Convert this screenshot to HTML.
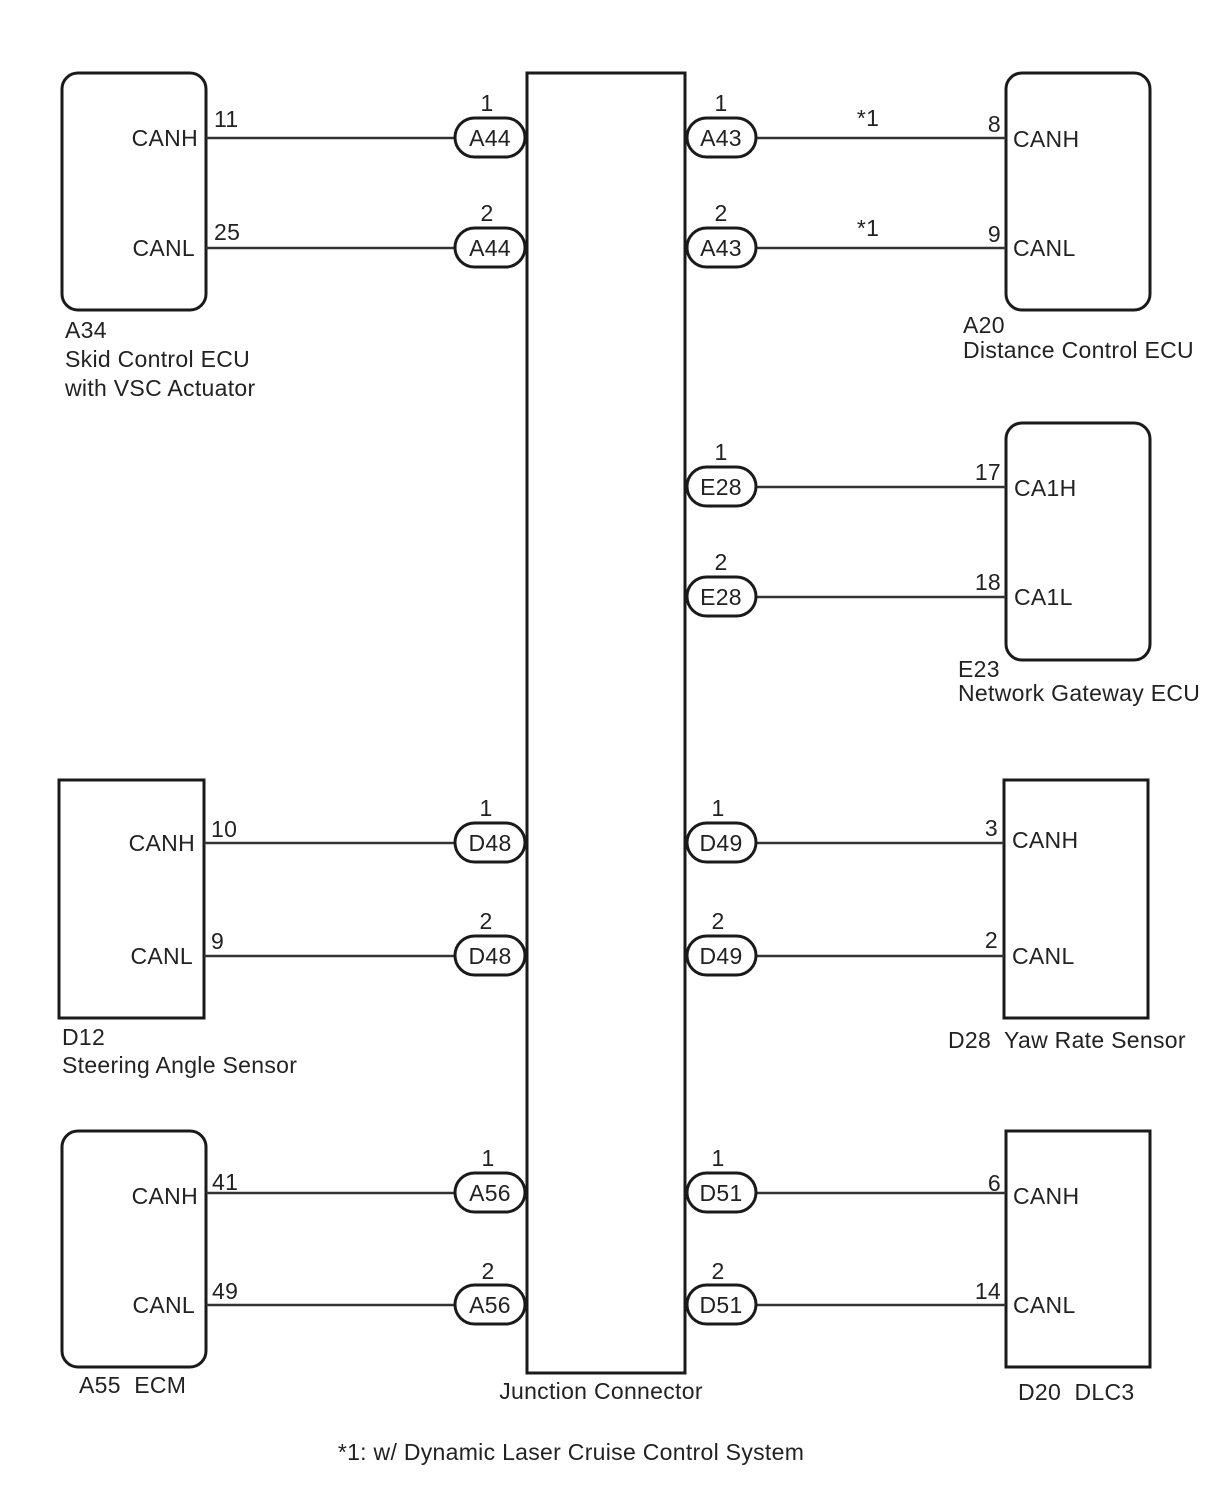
<!DOCTYPE html>
<html><head><meta charset="utf-8"><style>
html,body{margin:0;padding:0;background:#fff;}
svg{display:block;}
text{font-family:"Liberation Sans",Arial,sans-serif;font-size:23px;letter-spacing:0.3px;fill:#222;}
</style></head><body>
<svg width="1210" height="1498" viewBox="0 0 1210 1498" xmlns="http://www.w3.org/2000/svg">
<g fill="none" stroke="#1a1a1a" stroke-width="3">
<rect x="527" y="73" width="158" height="1300"/>
<rect x="62" y="73" width="144" height="237" rx="16"/>
<rect x="1006" y="73" width="144" height="237" rx="16"/>
<rect x="1006" y="423" width="144" height="237" rx="16"/>
<rect x="59" y="780" width="145" height="238"/>
<rect x="1004" y="780" width="144" height="238"/>
<rect x="62" y="1131" width="144" height="236" rx="16"/>
<rect x="1006" y="1131" width="144" height="236"/>
</g>
<g stroke="#333" stroke-width="2.5">
<line x1="206" y1="138" x2="455" y2="138"/><line x1="206" y1="248" x2="455" y2="248"/>
<line x1="756" y1="138" x2="1006" y2="138"/><line x1="756" y1="248" x2="1006" y2="248"/>
<line x1="756" y1="487" x2="1006" y2="487"/><line x1="756" y1="597" x2="1006" y2="597"/>
<line x1="204" y1="843" x2="455" y2="843"/><line x1="204" y1="956" x2="455" y2="956"/>
<line x1="756" y1="843" x2="1004" y2="843"/><line x1="756" y1="956" x2="1004" y2="956"/>
<line x1="206" y1="1193" x2="455" y2="1193"/><line x1="206" y1="1305" x2="455" y2="1305"/>
<line x1="756" y1="1193" x2="1006" y2="1193"/><line x1="756" y1="1305" x2="1006" y2="1305"/>
</g>
<g fill="#fff" stroke="#1a1a1a" stroke-width="3">
<rect x="455" y="118" width="70" height="39" rx="19.5"/><rect x="455" y="228" width="70" height="39" rx="19.5"/>
<rect x="687" y="118" width="69" height="39" rx="19.5"/><rect x="687" y="228" width="69" height="39" rx="19.5"/>
<rect x="687" y="467" width="69" height="39" rx="19.5"/><rect x="687" y="577" width="69" height="39" rx="19.5"/>
<rect x="455" y="823" width="70" height="39" rx="19.5"/><rect x="455" y="936" width="70" height="39" rx="19.5"/>
<rect x="687" y="823" width="69" height="39" rx="19.5"/><rect x="687" y="936" width="69" height="39" rx="19.5"/>
<rect x="455" y="1173" width="70" height="39" rx="19.5"/><rect x="455" y="1285" width="70" height="39" rx="19.5"/>
<rect x="687" y="1173" width="69" height="39" rx="19.5"/><rect x="687" y="1285" width="69" height="39" rx="19.5"/>
</g>
<g text-anchor="middle">
<text x="490" y="146">A44</text><text x="490" y="256">A44</text>
<text x="721" y="146">A43</text><text x="721" y="256">A43</text>
<text x="721" y="495">E28</text><text x="721" y="605">E28</text>
<text x="490" y="851">D48</text><text x="490" y="964">D48</text>
<text x="721" y="851">D49</text><text x="721" y="964">D49</text>
<text x="490" y="1201">A56</text><text x="490" y="1313">A56</text>
<text x="721" y="1201">D51</text><text x="721" y="1313">D51</text>
<text x="487" y="111">1</text><text x="487" y="221">2</text>
<text x="721" y="111">1</text><text x="721" y="221">2</text>
<text x="721" y="460">1</text><text x="721" y="570">2</text>
<text x="486" y="816">1</text><text x="486" y="929">2</text>
<text x="718" y="816">1</text><text x="718" y="929">2</text>
<text x="488" y="1166">1</text><text x="488" y="1279">2</text>
<text x="718" y="1166">1</text><text x="718" y="1279">2</text>
<text x="868" y="126">*1</text><text x="868" y="236">*1</text>
<text x="601" y="1399">Junction Connector</text>
<text x="571" y="1460">*1: w/ Dynamic Laser Cruise Control System</text>
</g>
<g text-anchor="end">
<text x="198" y="146">CANH</text><text x="195" y="256">CANL</text>
<text x="195" y="851">CANH</text><text x="193" y="964">CANL</text>
<text x="198" y="1204">CANH</text><text x="195" y="1313">CANL</text>
<text x="1001" y="132">8</text><text x="1001" y="242">9</text>
<text x="1001" y="480">17</text><text x="1001" y="590">18</text>
<text x="998" y="836">3</text><text x="998" y="948">2</text>
<text x="1001" y="1191">6</text><text x="1001" y="1299">14</text>
</g>
<g>
<text x="1013" y="147">CANH</text><text x="1013" y="256">CANL</text>
<text x="1014" y="496">CA1H</text><text x="1014" y="605">CA1L</text>
<text x="1012" y="848">CANH</text><text x="1012" y="964">CANL</text>
<text x="1013" y="1204">CANH</text><text x="1013" y="1313">CANL</text>
<text x="214" y="127">11</text><text x="214" y="240">25</text>
<text x="211" y="837">10</text><text x="211" y="949">9</text>
<text x="212" y="1190">41</text><text x="212" y="1299">49</text>
<text x="65" y="338">A34</text><text x="65" y="367">Skid Control ECU</text><text x="65" y="396">with VSC Actuator</text>
<text x="963" y="333">A20</text><text x="963" y="358">Distance Control ECU</text>
<text x="958" y="677">E23</text><text x="958" y="701">Network Gateway ECU</text>
<text x="62" y="1045">D12</text><text x="62" y="1073">Steering Angle Sensor</text>
<text x="948" y="1048">D28&#160; Yaw Rate Sensor</text>
<text x="79" y="1393">A55&#160; ECM</text>
<text x="1018" y="1400">D20&#160; DLC3</text>
</g>
</svg>
</body></html>
